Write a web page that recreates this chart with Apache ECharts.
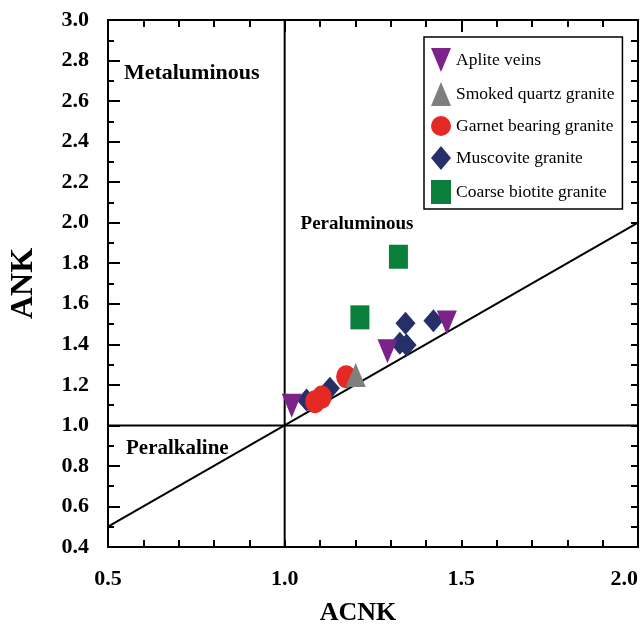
<!DOCTYPE html>
<html>
<head>
<meta charset="utf-8">
<script src="https://cdn.jsdelivr.net/npm/echarts@6/dist/echarts.min.js"></script>
<style>
  html, body { margin: 0; padding: 0; background: #fff; }
  #chart { width: 644px; height: 625px; }
</style>
</head>
<body>
<div id="chart"></div>
<script>
// ACNK / ANK values
const apliteVeins = [[1.020, 1.097], [1.291, 1.366], [1.459, 1.507]];
const smokedQuartz = [[1.201, 1.249]];
const garnetBearing = [[1.086, 1.117], [1.105, 1.140], [1.174, 1.240]];
const muscovite = [[1.062, 1.125], [1.128, 1.183], [1.342, 1.504], [1.326, 1.405], [1.345, 1.397], [1.421, 1.516]];
const coarseBiotite = [[1.213, 1.533], [1.322, 1.832]];

// boundary lines
const diagonalLine = [[0.5, 0.5], [2.0, 2.0]];
const verticalLine = [[1.0, 0.4], [1.0, 3.0]];
const horizontalLine = [[0.5, 1.0], [2.0, 1.0]];

// field labels (left edge, vertical centre)
const fieldNames = ['Metaluminous', 'Peraluminous', 'Peralkaline'];
const fieldPoints = [[0.545, 2.735], [1.045, 1.995], [0.551, 0.886]];

const serif = "'Liberation Serif', 'Times New Roman', serif";
const downTriangle = 'path://M0,0 L20,0 L10,24 Z';
const fieldFontSize = {Metaluminous: 22, Peraluminous: 19, Peralkaline: 21};

const chart = echarts.init(document.getElementById('chart'));

function lineSeries (data){
    return {
        type: 'line',
        data: data,
        symbol: 'none',
        silent: true,
        lineStyle: {color: '#000', width: 2},
        z: 1
    };
}

function scatter (name, data, symbol, size, color){
    return {
        name: name,
        type: 'scatter',
        data: data,
        symbol: symbol,
        symbolSize: size,
        itemStyle: {color: color, opacity: 1},
        z: 5
    };
}

const fieldData = fieldNames.map((name, i) => ({
    name: name,
    value: fieldPoints[i],
    label: {fontSize: fieldFontSize[name]}
}));

const option = {
    backgroundColor: '#fff',
    animation: false,
    grid: {left: 108, right: 6, top: 20, bottom: 78, outerBoundsMode: 'none'},
    legend: {
        orient: 'vertical',
        left: 424,
        top: 37,
        padding: [11, 8, 5, 7],
        itemWidth: 20,
        itemHeight: 24,
        itemGap: 10,
        backgroundColor: '#fff',
        borderColor: '#000',
        borderWidth: 1.5,
        textStyle: {fontFamily: serif, fontSize: 17.5, color: '#000'},
        data: ['Aplite veins', 'Smoked quartz granite', 'Garnet bearing granite', 'Muscovite granite', 'Coarse biotite granite']
    },
    xAxis: [{
        type: 'value',
        min: 0.5, max: 2.0, interval: 0.5,
        name: 'ACNK',
        nameLocation: 'middle',
        nameGap: 53,
        nameTextStyle: {fontFamily: serif, fontSize: 26, fontWeight: 'bold', color: '#000', padding: [0, 30, 0, 0]},
        axisLine: {onZero: false, lineStyle: {color: '#000', width: 2}},
        axisTick: {inside: true, length: 7, lineStyle: {color: '#000', width: 2}},
        minorTick: {show: true, splitNumber: 5, length: 7, lineStyle: {color: '#000', width: 2}},
        axisLabel: {
            margin: 21, fontFamily: serif, fontSize: 22, fontWeight: 'bold', color: '#000',
            alignMaxLabel: 'right', formatter: v => v.toFixed(1)
        },
        splitLine: {show: false}
    }, {
        type: 'value',
        position: 'top',
        min: 0.5, max: 2.0, interval: 0.5,
        axisLine: {onZero: false, lineStyle: {color: '#000', width: 2}},
        axisTick: {inside: true, length: 12, lineStyle: {color: '#000', width: 2}},
        minorTick: {show: true, splitNumber: 5, length: 7, lineStyle: {color: '#000', width: 2}},
        axisLabel: {show: false},
        splitLine: {show: false}
    }],
    yAxis: [{
        type: 'value',
        min: 0.4, max: 3.0, interval: 0.2,
        name: 'ANK',
        nameLocation: 'middle',
        nameGap: 68,
        nameRotate: 90,
        nameTextStyle: {fontFamily: serif, fontSize: 32, fontWeight: 'bold', color: '#000'},
        axisLine: {onZero: false, lineStyle: {color: '#000', width: 2}},
        axisTick: {inside: true, length: 12, lineStyle: {color: '#000', width: 2}},
        minorTick: {show: true, splitNumber: 2, length: 6, lineStyle: {color: '#000', width: 2}},
        axisLabel: {margin: 19, fontFamily: serif, fontSize: 22, fontWeight: 'bold', color: '#000', formatter: v => v.toFixed(1)},
        splitLine: {show: false}
    }, {
        type: 'value',
        position: 'right',
        min: 0.4, max: 3.0, interval: 0.2,
        axisLine: {onZero: false, lineStyle: {color: '#000', width: 2}},
        axisTick: {inside: true, length: 7, lineStyle: {color: '#000', width: 2}},
        minorTick: {show: true, splitNumber: 2, length: 7, lineStyle: {color: '#000', width: 2}},
        axisLabel: {show: false},
        splitLine: {show: false}
    }],
    series: [
        lineSeries(diagonalLine),
        lineSeries(verticalLine),
        lineSeries(horizontalLine),
        {
            type: 'scatter',
            data: fieldData,
            symbolSize: 0,
            silent: true,
            itemStyle: {opacity: 1},
            label: {
                show: true, position: 'right', distance: 0,
                formatter: p => p.name,
                fontFamily: serif, fontWeight: 'bold', color: '#000'
            },
            z: 3
        },
        scatter('Coarse biotite granite', coarseBiotite, 'rect', [19, 24], '#0a7f3b'),
        scatter('Muscovite granite', muscovite, 'diamond', [20, 23], '#272f6b'),
        scatter('Garnet bearing granite', garnetBearing, 'circle', [20, 23], '#e42a22'),
        scatter('Smoked quartz granite', smokedQuartz, 'triangle', [20, 24], '#7f7f7f'),
        scatter('Aplite veins', apliteVeins, downTriangle, [20, 24], '#7c2389')
    ]
};

chart.setOption(option);
</script>
</body>
</html>
